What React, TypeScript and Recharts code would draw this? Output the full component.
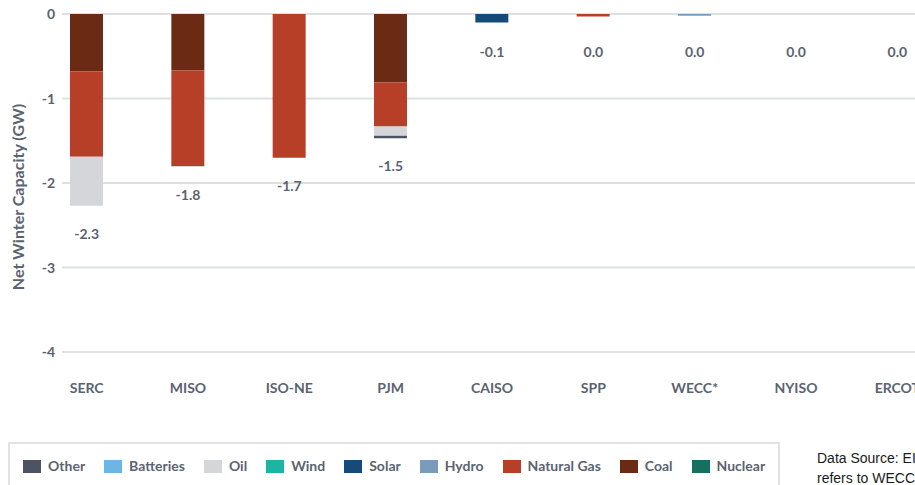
import React from 'react';
import { ComposedChart, Bar, Line, XAxis, YAxis, CartesianGrid, Legend, LabelList } from 'recharts';

const regions = ['SERC', 'MISO', 'ISO-NE', 'PJM', 'CAISO', 'SPP', 'WECC*', 'NYISO', 'ERCOT'];

// GW change per fuel, listed in stacking order (nearest zero first)
const nuclear = [0, 0, 0, 0, 0, 0, 0, 0, 0];
const coal = [-0.68, -0.67, 0, -0.81, 0, 0, 0, 0, 0];
const naturalGas = [-1.01, -1.13, -1.7, -0.52, 0, -0.03, 0, 0, 0];
const hydro = [0, 0, 0, 0, 0, 0, -0.02, 0, 0];
const solar = [0, 0, 0, 0, -0.1, 0, 0, 0, 0];
const wind = [0, 0, 0, 0, 0, 0, 0, 0, 0];
const oil = [-0.58, -0.01, 0, -0.11, 0, 0, 0, 0, 0];
const batteries = [0, 0, 0, 0, 0, 0, 0, 0, 0];
const other = [0, 0, 0, -0.03, 0, 0, 0, 0, 0];

const yTicks = [0, -1, -2, -3, -4];

const series = [
  { key: 'nuclear', name: 'Nuclear', color: '#17705f', values: nuclear },
  { key: 'coal', name: 'Coal', color: '#6a2a14', values: coal },
  { key: 'naturalGas', name: 'Natural Gas', color: '#b83f27', values: naturalGas },
  { key: 'hydro', name: 'Hydro', color: '#7a9bba', values: hydro },
  { key: 'solar', name: 'Solar', color: '#164a7a', values: solar },
  { key: 'wind', name: 'Wind', color: '#1ab5a3', values: wind },
  { key: 'oil', name: 'Oil', color: '#d5d6d9', values: oil },
  { key: 'batteries', name: 'Batteries', color: '#6cb6e5', values: batteries },
  { key: 'other', name: 'Other', color: '#4b5365', values: other },
];

const data = regions.map((region, i) => {
  const row: Record<string, number | string> = { region };
  let total = 0;
  series.forEach((s) => {
    row[s.key] = s.values[i];
    total += s.values[i];
  });
  row.total = total;
  return row;
});

const FONT = 'Lato, "Noto Sans", sans-serif';
const TEXT = '#5b6371';
const TOP = 14;

const YTick = (props: any) => {
  const { x, y, payload } = props;
  return (
    <text x={x + 19} y={y + 5} textAnchor="end" fontFamily={FONT} fontWeight={700} fontSize={14} fill={TEXT}>
      {payload.value}
    </text>
  );
};

const TotalLabel = (props: any) => {
  const { x, y, value } = props;
  const total = Number(value);
  const text = Math.abs(total) < 0.05 ? '0.0' : total.toFixed(1);
  const ty = Math.max(Number(y) + 33, TOP + 43);
  return (
    <text x={Number(x)} y={ty} textAnchor="middle" fontFamily={FONT} fontWeight={700} fontSize={14} fill={TEXT}>
      {text}
    </text>
  );
};

const YTitle = () => (
  <text
    x={17}
    y={197}
    transform="rotate(-90, 17, 197)"
    textAnchor="middle"
    dominantBaseline="central"
    fontFamily={FONT}
    fontWeight={700}
    fontSize={16}
    fill={TEXT}
  >
    Net Winter Capacity (GW)
  </text>
);

const renderLegend = () => (
  <div
    style={{
      border: '2px solid #e1e2e5',
      boxSizing: 'border-box',
      height: 70,
      padding: '12px 0 0 13px',
      display: 'flex',
      alignItems: 'flex-start',
      whiteSpace: 'nowrap',
      fontFamily: FONT,
      fontWeight: 700,
      fontSize: 14,
      color: TEXT,
      lineHeight: '20px',
    }}
  >
    {[...series].reverse().map((s) => (
      <div key={s.key} style={{ display: 'flex', alignItems: 'center', marginRight: 19, flexShrink: 0 }}>
        <span style={{ display: 'inline-block', width: 18, height: 13, background: s.color, marginRight: 7 }} />
        <span>{s.name}</span>
      </div>
    ))}
  </div>
);

export default function App() {
  return (
    <div style={{ position: 'absolute', left: 0, top: 0, width: 915, height: 485, overflow: 'hidden', background: '#fff' }}>
      <ComposedChart width={960} height={485} data={data} margin={{ top: TOP, right: 12, left: 0, bottom: 70 }} barSize={33}>
        <CartesianGrid vertical={false} x={62} width={900} stroke="#dedfe1" strokeWidth={2} />
        <XAxis
          dataKey="region"
          axisLine={false}
          tickLine={false}
          tickSize={0}
          tickMargin={31}
          height={63}
          interval={0}
          tick={{ fontFamily: FONT, fontWeight: 700, fontSize: 14, fill: TEXT }}
        />
        <YAxis
          width={36}
          domain={[-4, 0]}
          ticks={yTicks}
          axisLine={false}
          tickLine={false}
          tickSize={0}
          tickMargin={0}
          tick={<YTick />}
          label={{ content: <YTitle /> }}
        />
        <Legend
          layout="horizontal"
          verticalAlign="middle"
          align="center"
          content={renderLegend}
          wrapperStyle={{ left: 8, top: 442, width: 772 }}
        />
        {series.map((s) => (
          <Bar key={s.key} dataKey={s.key} name={s.name} stackId="a" fill={s.color} isAnimationActive={false} />
        ))}
        <Line dataKey="total" stroke="none" dot={false} activeDot={false} legendType="none" isAnimationActive={false}>
          <LabelList dataKey="total" content={<TotalLabel />} />
        </Line>
      </ComposedChart>
      <div
        style={{
          position: 'absolute',
          left: 817,
          top: 448,
          fontFamily: '"Liberation Sans", Arial, sans-serif',
          fontSize: 14,
          lineHeight: '20px',
          color: '#1a1a1a',
          whiteSpace: 'nowrap',
        }}
      >
        <div>Data Source: EIA</div>
        <div>refers to WECC excluding CAISO</div>
      </div>
    </div>
  );
}
